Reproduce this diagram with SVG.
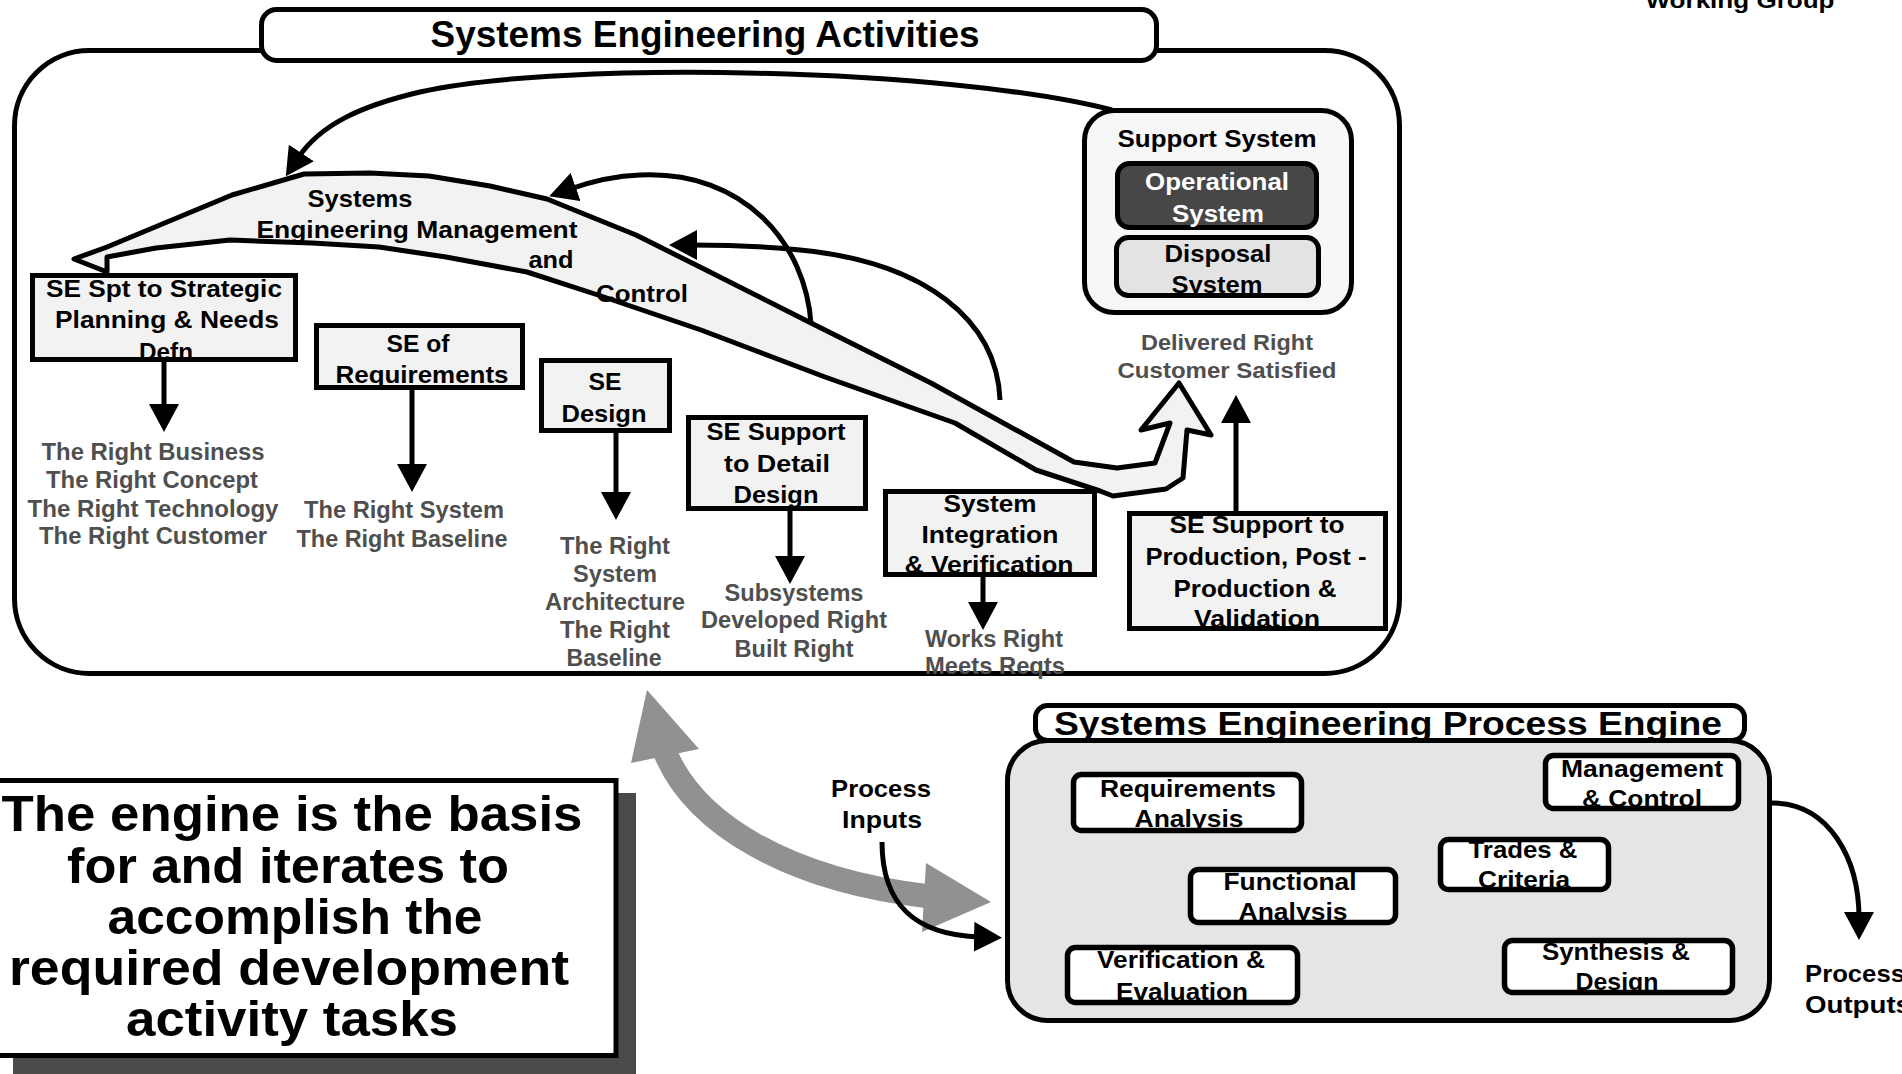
<svg xmlns="http://www.w3.org/2000/svg" width="1902" height="1074" viewBox="0 0 1902 1074">
  <defs>
    <style>
      .t{font-family:"Liberation Sans",Arial,Helvetica,sans-serif;font-weight:700;text-anchor:middle;fill:#000;font-size:24px}
      .g{fill:#4f4f4f;font-size:23px}
      .w{fill:#fff}
      .s22{font-size:22px}
      .s33{font-size:33px}
      .s36{font-size:36px}
      .s50{font-size:50px}
      .left{text-anchor:start}
      .box{fill:#f2f2f2;stroke:#000;stroke-width:5}
      .ebox{fill:#fff;stroke:#000;stroke-width:5.5}
      .conn{fill:none;stroke:#000;stroke-width:5}
    </style>
    <marker id="head" viewBox="0 0 28 30" refX="6" refY="15" markerWidth="28" markerHeight="30" markerUnits="userSpaceOnUse" orient="auto">
      <path d="M0,0 L28,15 L0,30 Z" fill="#000"/>
    </marker>
  </defs>

  <rect width="1902" height="1074" fill="#fff"/>

  <!-- top-right caption, partly off the top edge -->
  <text class="t s22" x="1740" y="8" textLength="189" lengthAdjust="spacingAndGlyphs">Working Group</text>

  <!-- activities frame -->
  <g id="activities">
    <rect x="14.5" y="50.5" width="1385" height="623" rx="75" fill="#fff" stroke="#000" stroke-width="5"/>
    <rect x="261.5" y="9.5" width="895" height="51" rx="15" fill="#fff" stroke="#000" stroke-width="5"/>
    <text class="t s36" x="705" y="47" textLength="549" lengthAdjust="spacingAndGlyphs">Systems Engineering Activities</text>
  </g>

  <!-- SE management and control band (double-headed block arrow) -->
  <g id="se-management">
    <path d="M107,247 L232,195 L304,174 L370,173 L429,176 L490,186 L547,199 L636,235 L700,267 L811,323 L931,383 L1074,462 L1117,468 L1155,463 L1170,423 L1141,430 L1179,383 L1211,435 L1187,430 L1183,478 L1166,489 L1113,496 L1100,491 L1036,470 L955,423 L825,377 L701,330 L598,295 L527,272 L446,257 L379,247 L312,243 L230,240 L156,248 L107,257 L107,272 L74,259 Z" fill="#f2f2f2" stroke="#000" stroke-width="5" stroke-linejoin="round"/>
    <text class="t" x="360" y="207" textLength="105" lengthAdjust="spacingAndGlyphs">Systems</text>
    <text class="t" x="417" y="238" textLength="321" lengthAdjust="spacingAndGlyphs">Engineering Management</text>
    <text class="t" x="551" y="268" textLength="45" lengthAdjust="spacingAndGlyphs">and</text>
    <text class="t" x="642" y="302" textLength="92" lengthAdjust="spacingAndGlyphs">Control</text>
  </g>

  <!-- support system -->
  <g id="support-system">
    <rect x="1084.5" y="110.5" width="267" height="202" rx="30" fill="#f7f7f7" stroke="#000" stroke-width="5"/>
    <text class="t" x="1217" y="147" textLength="199" lengthAdjust="spacingAndGlyphs">Support System</text>
  </g>
  <g id="operational-system">
    <rect x="1117.5" y="163.5" width="199" height="64" rx="12" fill="#474747" stroke="#000" stroke-width="5"/>
    <text class="t w" x="1217" y="190" textLength="144" lengthAdjust="spacingAndGlyphs">Operational</text>
    <text class="t w" x="1218" y="222" textLength="92" lengthAdjust="spacingAndGlyphs">System</text>
  </g>
  <g id="disposal-system">
    <rect x="1116.5" y="237.5" width="202" height="58" rx="12" fill="#e3e3e3" stroke="#000" stroke-width="5"/>
    <text class="t" x="1218" y="262" textLength="107" lengthAdjust="spacingAndGlyphs">Disposal</text>
    <text class="t" x="1217" y="293" textLength="91" lengthAdjust="spacingAndGlyphs">System</text>
  </g>
  <g id="delivered">
    <text class="t g s22" x="1227" y="350" textLength="172" lengthAdjust="spacingAndGlyphs">Delivered Right</text>
    <text class="t g s22" x="1227" y="378" textLength="219" lengthAdjust="spacingAndGlyphs">Customer Satisfied</text>
  </g>

  <!-- activity boxes -->
  <g id="se-strategic">
    <rect class="box" x="32.5" y="275.5" width="263" height="84"/>
    <text class="t" x="164" y="297" textLength="236" lengthAdjust="spacingAndGlyphs">SE Spt to Strategic</text>
    <text class="t" x="167" y="328" textLength="224" lengthAdjust="spacingAndGlyphs">Planning &amp; Needs</text>
    <text class="t" x="166" y="360" textLength="54" lengthAdjust="spacingAndGlyphs">Defn</text>
  </g>
  <g id="se-requirements">
    <rect class="box" x="316.5" y="325.5" width="206" height="62"/>
    <text class="t" x="418" y="352" textLength="63" lengthAdjust="spacingAndGlyphs">SE of</text>
    <text class="t" x="422" y="383" textLength="173" lengthAdjust="spacingAndGlyphs">Requirements</text>
  </g>
  <g id="se-design">
    <rect class="box" x="541.5" y="360.5" width="128" height="70"/>
    <text class="t" x="605" y="390" textLength="33" lengthAdjust="spacingAndGlyphs">SE</text>
    <text class="t" x="604" y="422" textLength="85" lengthAdjust="spacingAndGlyphs">Design</text>
  </g>
  <g id="se-detail-design">
    <rect class="box" x="688.5" y="417.5" width="177" height="91"/>
    <text class="t" x="776" y="440" textLength="139" lengthAdjust="spacingAndGlyphs">SE Support</text>
    <text class="t" x="777" y="472" textLength="106" lengthAdjust="spacingAndGlyphs">to Detail</text>
    <text class="t" x="776" y="503" textLength="85" lengthAdjust="spacingAndGlyphs">Design</text>
  </g>
  <g id="system-integration">
    <rect class="box" x="885.5" y="491.5" width="209" height="83"/>
    <text class="t" x="990" y="512" textLength="93" lengthAdjust="spacingAndGlyphs">System</text>
    <text class="t" x="990" y="543" textLength="137" lengthAdjust="spacingAndGlyphs">Integration</text>
    <text class="t" x="989" y="573" textLength="169" lengthAdjust="spacingAndGlyphs">&amp; Verification</text>
  </g>
  <g id="se-production">
    <rect class="box" x="1129.5" y="513.5" width="256" height="115"/>
    <text class="t" x="1257" y="533" textLength="175" lengthAdjust="spacingAndGlyphs">SE Support to</text>
    <text class="t" x="1256" y="565" textLength="221" lengthAdjust="spacingAndGlyphs">Production, Post -</text>
    <text class="t" x="1255" y="597" textLength="163" lengthAdjust="spacingAndGlyphs">Production &amp;</text>
    <text class="t" x="1257" y="627" textLength="126" lengthAdjust="spacingAndGlyphs">Validation</text>
  </g>

  <!-- outcome labels -->
  <g id="outcome-strategic">
    <text class="t g" x="153" y="460" textLength="223" lengthAdjust="spacingAndGlyphs">The Right Business</text>
    <text class="t g" x="152" y="488" textLength="212" lengthAdjust="spacingAndGlyphs">The Right Concept</text>
    <text class="t g" x="153" y="517" textLength="251" lengthAdjust="spacingAndGlyphs">The Right Technology</text>
    <text class="t g" x="153" y="544" textLength="228" lengthAdjust="spacingAndGlyphs">The Right Customer</text>
  </g>
  <g id="outcome-requirements">
    <text class="t g" x="404" y="518" textLength="200" lengthAdjust="spacingAndGlyphs">The Right System</text>
    <text class="t g" x="402" y="547" textLength="211" lengthAdjust="spacingAndGlyphs">The Right Baseline</text>
  </g>
  <g id="outcome-design">
    <text class="t g" x="615" y="554" textLength="110" lengthAdjust="spacingAndGlyphs">The Right</text>
    <text class="t g" x="615" y="582" textLength="84" lengthAdjust="spacingAndGlyphs">System</text>
    <text class="t g" x="615" y="610" textLength="140" lengthAdjust="spacingAndGlyphs">Architecture</text>
    <text class="t g" x="615" y="638" textLength="110" lengthAdjust="spacingAndGlyphs">The Right</text>
    <text class="t g" x="614" y="666" textLength="95" lengthAdjust="spacingAndGlyphs">Baseline</text>
  </g>
  <g id="outcome-detail">
    <text class="t g" x="794" y="601" textLength="139" lengthAdjust="spacingAndGlyphs">Subsystems</text>
    <text class="t g" x="794" y="628" textLength="186" lengthAdjust="spacingAndGlyphs">Developed Right</text>
    <text class="t g" x="794" y="657" textLength="119" lengthAdjust="spacingAndGlyphs">Built Right</text>
  </g>
  <g id="outcome-integration">
    <text class="t g" x="994" y="647" textLength="138" lengthAdjust="spacingAndGlyphs">Works Right</text>
    <text class="t g" x="995" y="674" textLength="140" lengthAdjust="spacingAndGlyphs">Meets Reqts</text>
  </g>

  <!-- statement box with drop shadow -->
  <g id="statement">
    <rect x="13" y="793" width="623" height="290" fill="#4a4a4a"/>
    <rect x="-5" y="780.5" width="621" height="275" fill="#fff" stroke="#000" stroke-width="5"/>
    <text class="t s50" x="292" y="831" textLength="581" lengthAdjust="spacingAndGlyphs">The engine is the basis</text>
    <text class="t s50" x="288" y="883" textLength="442" lengthAdjust="spacingAndGlyphs">for and iterates to</text>
    <text class="t s50" x="295" y="934" textLength="375" lengthAdjust="spacingAndGlyphs">accomplish the</text>
    <text class="t s50" x="289" y="985" textLength="560" lengthAdjust="spacingAndGlyphs">required development</text>
    <text class="t s50" x="292" y="1036" textLength="332" lengthAdjust="spacingAndGlyphs">activity tasks</text>
  </g>

  <!-- process engine -->
  <g id="process-engine">
    <rect x="1007.5" y="740.5" width="762" height="280" rx="40" fill="#e5e5e5" stroke="#000" stroke-width="5"/>
    <rect x="1035.5" y="705.5" width="709" height="35" rx="12" fill="#fff" stroke="#000" stroke-width="5"/>
    <text class="t s33" x="1388" y="735" textLength="668" lengthAdjust="spacingAndGlyphs">Systems Engineering Process Engine</text>
  </g>
  <g id="requirements-analysis">
    <rect class="ebox" x="1073.5" y="774.5" width="228" height="56" rx="8"/>
    <text class="t" x="1188" y="797" textLength="176" lengthAdjust="spacingAndGlyphs">Requirements</text>
    <text class="t" x="1189" y="827" textLength="109" lengthAdjust="spacingAndGlyphs">Analysis</text>
  </g>
  <g id="management-control">
    <rect class="ebox" x="1545.5" y="755.5" width="193" height="53" rx="8"/>
    <text class="t" x="1642" y="777" textLength="162" lengthAdjust="spacingAndGlyphs">Management</text>
    <text class="t" x="1642" y="807" textLength="120" lengthAdjust="spacingAndGlyphs">&amp; Control</text>
  </g>
  <g id="trades-criteria">
    <rect class="ebox" x="1440.5" y="839.5" width="168" height="50" rx="8"/>
    <text class="t" x="1523" y="858" textLength="109" lengthAdjust="spacingAndGlyphs">Trades &amp;</text>
    <text class="t" x="1524" y="888" textLength="92" lengthAdjust="spacingAndGlyphs">Criteria</text>
  </g>
  <g id="functional-analysis">
    <rect class="ebox" x="1190.5" y="869.5" width="205" height="53" rx="8"/>
    <text class="t" x="1290" y="890" textLength="133" lengthAdjust="spacingAndGlyphs">Functional</text>
    <text class="t" x="1293" y="920" textLength="109" lengthAdjust="spacingAndGlyphs">Analysis</text>
  </g>
  <g id="verification-evaluation">
    <rect class="ebox" x="1067.5" y="947.5" width="230" height="55" rx="8"/>
    <text class="t" x="1181" y="968" textLength="168" lengthAdjust="spacingAndGlyphs">Verification &amp;</text>
    <text class="t" x="1182" y="1000" textLength="132" lengthAdjust="spacingAndGlyphs">Evaluation</text>
  </g>
  <g id="synthesis-design">
    <rect class="ebox" x="1504.5" y="940.5" width="228" height="52" rx="8"/>
    <text class="t" x="1616" y="960" textLength="148" lengthAdjust="spacingAndGlyphs">Synthesis &amp;</text>
    <text class="t" x="1617" y="990" textLength="83" lengthAdjust="spacingAndGlyphs">Design</text>
  </g>

  <g id="process-inputs">
    <text class="t" x="881" y="797" textLength="100" lengthAdjust="spacingAndGlyphs">Process</text>
    <text class="t" x="882" y="828" textLength="80" lengthAdjust="spacingAndGlyphs">Inputs</text>
  </g>
  <g id="process-outputs">
    <text class="t left" x="1805" y="982" textLength="100" lengthAdjust="spacingAndGlyphs">Process</text>
    <text class="t left" x="1805" y="1013" textLength="106" lengthAdjust="spacingAndGlyphs">Outputs</text>
  </g>

  <!-- connectors -->
  <g id="connectors">
    <!-- activity boxes down to their outcomes -->
    <path class="conn" d="M164,362 V410" marker-end="url(#head)"/>
    <path class="conn" d="M412,390 V470" marker-end="url(#head)"/>
    <path class="conn" d="M616,433 V498" marker-end="url(#head)"/>
    <path class="conn" d="M790,511 V562" marker-end="url(#head)"/>
    <path class="conn" d="M983,577 V608" marker-end="url(#head)"/>
    <path class="conn" d="M1236,511 V417" marker-end="url(#head)"/>
    <!-- feedback loops into the management band -->
    <path class="conn" d="M1112,110 C950,68 560,60 420,92 C360,106 320,125 298,158" marker-end="url(#head)"/>
    <path class="conn" d="M811,324 C806,245 745,170 640,175 C612,176 590,182 570,189" marker-end="url(#head)"/>
    <path class="conn" d="M1000,400 C997,320 925,262 800,250 C760,246 720,245 691,245" marker-end="url(#head)"/>
    <!-- engine <-> activities exchange -->
    <g id="iteration-arrow" fill="#919191">
      <path d="M665,752 C695,825 790,880 926,896" fill="none" stroke="#919191" stroke-width="24"/>
      <polygon points="647,690 631,763 699,749"/>
      <polygon points="991,902 926,863 922,932"/>
    </g>
    <path class="conn" d="M882,842 C882,905 915,935 980,937" marker-end="url(#head)"/>
    <path class="conn" d="M1772,803 C1830,803 1859,860 1859,918" marker-end="url(#head)"/>
  </g>
</svg>
